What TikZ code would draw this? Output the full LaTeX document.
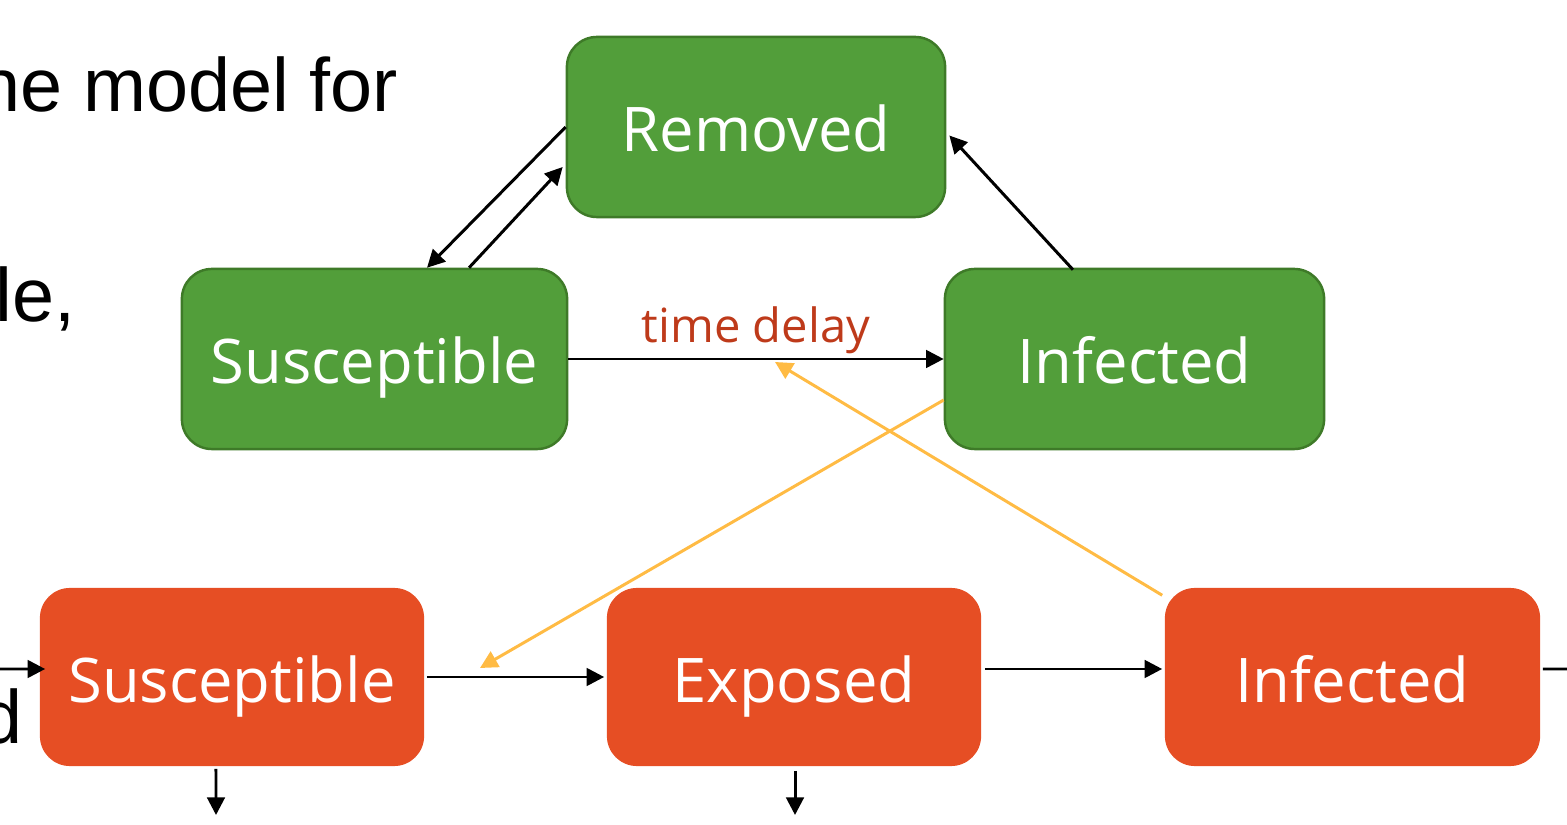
\documentclass[tikz,border=0pt]{standalone}
\usepackage{fontspec}
\setmainfont{Liberation Sans}
\newfontfamily\boxfont{Open Sans}
\usetikzlibrary{arrows.meta,calc,positioning}

\definecolor{sirgreen}{RGB}{82,158,58}
\definecolor{sirgreenedge}{RGB}{62,122,40}
\definecolor{seired}{RGB}{230,78,36}
\definecolor{delayred}{RGB}{190,58,26}
\definecolor{linkyellow}{RGB}{255,187,68}

\tikzset{
  state/.style={rounded corners=0.3cm, minimum width=3.78cm, minimum height=1.8cm,
    text=white, font=\boxfont\fontsize{17.5}{20}\selectfont, inner sep=0pt,
    text height=14pt, text depth=0pt},
  sirbox/.style={state, fill=sirgreen, draw=sirgreenedge, line width=0.7pt},
  seibox/.style={state, fill=seired, minimum height=1.78cm, text height=14.6pt},
  slidetext/.style={anchor=base east, inner sep=0pt, font=\fontsize{21.5}{24}\selectfont},
  arr/.style={-{Triangle[length=5pt,width=5pt]}, line width=0.85pt},
  link/.style={-{Triangle[length=5pt,width=5pt]}, line width=0.85pt, linkyellow},
}

\begin{document}
\begin{tikzpicture}[x=0.01cm, y=-0.01cm]
  \useasboundingbox (0,0) rectangle (1567,825);
  \clip (0,0) rectangle (1567,825);

  % slide text behind the diagram
  \node[slidetext] (txtA) at (399,112) {ne model for};
  \node[slidetext] (txtB) at (76,322) {le,};
  \node[slidetext] (txtC) at (23,743) {d};

  % SIR model
  \node[sirbox] (rem) at (756,127) {Removed};
  \node[sirbox, minimum width=3.85cm] (sus) at (374.5,359) {Susceptible};
  \node[sirbox, minimum width=3.79cm] (inf) at (1134.5,359) {Infected};

  % SEI model
  \node[seibox, minimum width=3.84cm] (susB) at (232,677) {Susceptible};
  \node[seibox, minimum width=3.74cm] (expB) at (794,677) {Exposed};
  \node[seibox, minimum width=3.75cm] (infB) at (1352.5,677) {Infected};

  \draw[arr] (rem.west) -- ([xshift=0.525cm]sus.north);
  \draw[arr] ([xshift=0.945cm]sus.north) -- ([xshift=-0.03cm,yshift=-0.4cm]rem.west);
  \draw[arr] ([xshift=-0.615cm,yshift=-0.02cm]inf.north) -- ([xshift=0.03cm,yshift=-0.085cm]rem.east);
  \draw[arr] (sus.east) -- node[anchor=base, yshift=0.16cm, inner sep=0pt, text=delayred,
    font=\boxfont\fontsize{13.4}{15}\selectfont] (delay) {time delay} (inf.west);

  \draw[arr] ([xshift=0.02cm]susB.east) -- ([xshift=-0.02cm]expB.west);
  \draw[arr] ([xshift=0.03cm,yshift=0.08cm]expB.east) -- ([xshift=-0.02cm,yshift=0.08cm]infB.east -| infB.west);

  % feedback between the two models
  \coordinate (tipA) at (480,668);
  \coordinate (tipB) at (775,362);
  \draw[link] ([yshift=-0.41cm]inf.west) -- (tipA);
  \draw[link] ([xshift=-0.02cm,yshift=-0.08cm]infB.north west) -- (tipB);

  % flows leaving the picture
  \coordinate (inL) at (0,669);
  \coordinate (outR) at (1567,669);
  \draw[arr] (inL) -- ([xshift=0.06cm,yshift=0.08cm]susB.west);
  \draw[line width=0.85pt] ([xshift=0.02cm,yshift=0.08cm]infB.east) -- (outR);
  \coordinate (downA) at (216,815);
  \coordinate (downB) at (795,815);
  \draw[arr] ([xshift=-0.16cm,yshift=-0.02cm]susB.south) -- (downA);
  \draw[arr] ([xshift=0.01cm,yshift=-0.04cm]expB.south) -- (downB);
\end{tikzpicture}
\end{document}
